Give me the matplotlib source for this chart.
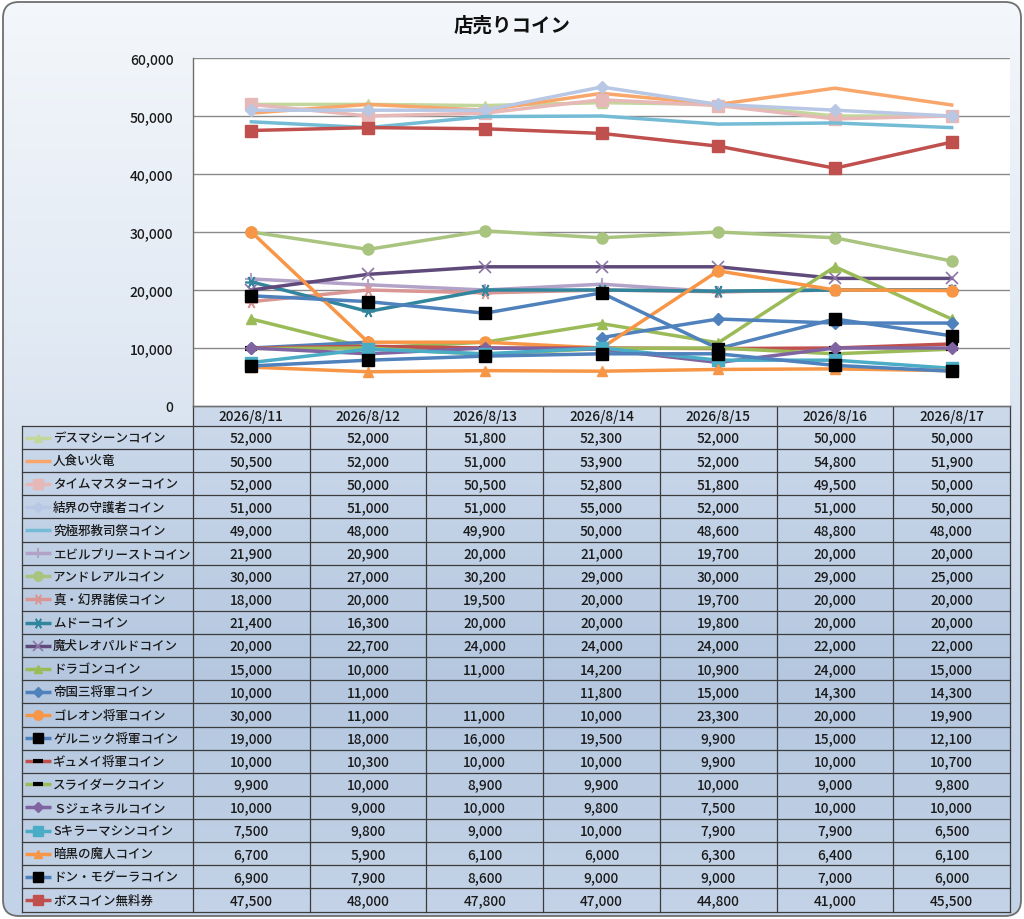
import numpy as np
import matplotlib
matplotlib.use("Agg")
import matplotlib.pyplot as plt
from matplotlib.patches import FancyBboxPatch, Rectangle
from matplotlib.colors import LinearSegmentedColormap

plt.rcParams['font.family'] = ['Noto Sans CJK JP', 'DejaVu Sans']

title = "店売りコイン"
dates = ["2026/8/11", "2026/8/12", "2026/8/13", "2026/8/14",
         "2026/8/15", "2026/8/16", "2026/8/17"]

# values (None = empty cell)
death_machine = [52000, 52000, 51800, 52300, 52000, 50000, 50000]
hitokui_karyu = [50500, 52000, 51000, 53900, 52000, 54800, 51900]
time_master = [52000, 50000, 50500, 52800, 51800, 49500, 50000]
kekkai = [51000, 51000, 51000, 55000, 52000, 51000, 50000]
kyukyoku = [49000, 48000, 49900, 50000, 48600, 48800, 48000]
evil_priest = [21900, 20900, 20000, 21000, 19700, 20000, 20000]
andreal = [30000, 27000, 30200, 29000, 30000, 29000, 25000]
gen_shoko = [18000, 20000, 19500, 20000, 19700, 20000, 20000]
mudo = [21400, 16300, 20000, 20000, 19800, 20000, 20000]
leopard = [20000, 22700, 24000, 24000, 24000, 22000, 22000]
dragon = [15000, 10000, 11000, 14200, 10900, 24000, 15000]
teikoku = [10000, 11000, None, 11800, 15000, 14300, 14300]
goreon = [30000, 11000, 11000, 10000, 23300, 20000, 19900]
gernick = [19000, 18000, 16000, 19500, 9900, 15000, 12100]
gyumei = [10000, 10300, 10000, 10000, 9900, 10000, 10700]
slydark = [9900, 10000, 8900, 9900, 10000, 9000, 9800]
s_general = [10000, 9000, 10000, 9800, 7500, 10000, 10000]
s_killer = [7500, 9800, 9000, 10000, 7900, 7900, 6500]
ankoku = [6700, 5900, 6100, 6000, 6300, 6400, 6100]
don_mogura = [6900, 7900, 8600, 9000, 9000, 7000, 6000]
boss_ticket = [47500, 48000, 47800, 47000, 44800, 41000, 45500]

star = (6, 2, 90)
# name, values, line colour, marker, face, edge, size, edge width
series = [
    ("デスマシーンコイン", death_machine, "#c3d69b", "^", "#c3d69b", "#c3d69b", 7, 1),
    ("人食い火竜", hitokui_karyu, "#f9a66b", None, None, None, 0, 0),
    ("タイムマスターコイン", time_master, "#e6b9b8", "s", "#e6b9b8", "#e6b9b8", 8, 1),
    ("結界の守護者コイン", kekkai, "#b7c7e4", "D", "#b7c7e4", "#b7c7e4", 6, 1),
    ("究極邪教司祭コイン", kyukyoku, "#74bcd6", None, None, None, 0, 0),
    ("エビルプリーストコイン", evil_priest, "#b3a2c7", "+", "#b3a2c7", "#b3a2c7", 9, 1.5),
    ("アンドレアルコイン", andreal, "#a9c47f", "o", "#a9c47f", "#a9c47f", 8, 1),
    ("真・幻界諸侯コイン", gen_shoko, "#d99694", star, "#d99694", "#d99694", 9, 1.2),
    ("ムドーコイン", mudo, "#31859c", star, "#31859c", "#31859c", 9, 1.2),
    ("魔犬レオパルドコイン", leopard, "#604a7b", "x", "#604a7b", "#8a75a6", 8, 1.2),
    ("ドラゴンコイン", dragon, "#9bbb59", "^", "#9bbb59", "#9bbb59", 7, 1),
    ("帝国三将軍コイン", teikoku, "#4f81bd", "D", "#4f81bd", "#4f81bd", 6, 1),
    ("ゴレオン将軍コイン", goreon, "#f79646", "o", "#f79646", "#f79646", 8, 1),
    ("ゲルニック将軍コイン", gernick, "#4f81bd", "s", "black", "black", 8, 1),
    ("ギュメイ将軍コイン", gyumei, "#c0504d", "_", "black", "black", 8, 3),
    ("スライダークコイン", slydark, "#9bbb59", "_", "black", "black", 8, 3),
    ("Ｓジェネラルコイン", s_general, "#8064a2", "D", "#8064a2", "#8064a2", 6, 1),
    ("Sキラーマシンコイン", s_killer, "#4bacc6", "s", "#4bacc6", "#4bacc6", 8, 1),
    ("暗黒の魔人コイン", ankoku, "#f79646", "^", "#f79646", "#f79646", 7, 1),
    ("ドン・モグーラコイン", don_mogura, "#4f81bd", "s", "black", "black", 8, 1),
    ("ボスコイン無料券", boss_ticket, "#c0504d", "s", "#c0504d", "#c0504d", 8, 1),
]

W, H = 1024, 920
fig = plt.figure(figsize=(W / 100, H / 100), dpi=100)
fig.patch.set_facecolor("white")

# full-figure overlay in pixel coordinates
bg = fig.add_axes([0, 0, 1, 1], zorder=0)
bg.set_xlim(0, W)
bg.set_ylim(H, 0)
bg.axis("off")

grad_cmap = LinearSegmentedColormap.from_list(
    "bg", [(0, "#f4f7fb"), (0.35, "#e2eaf4"), (0.75, "#c7d6e9"), (1, "#c2d2e7")])
grad = np.linspace(0, 1, 256).reshape(-1, 1)
im = bg.imshow(grad, cmap=grad_cmap, extent=[0, W, H, 0], aspect="auto", zorder=0)
frame = FancyBboxPatch((3, 3), W - 6, H - 6, boxstyle="round,pad=0,rounding_size=16",
                       facecolor="none", edgecolor="#6e6e6e", lw=1.3, zorder=5)
bg.add_patch(frame)
im.set_clip_path(frame)

bg.text(512, 26, title, ha="center", va="center", fontsize=14, fontweight="bold", color="#111111")

# table geometry (pixels)
x_lab0, x_tab0, x_tab1 = 22, 193, 1010
y_head0, y_row0, row_h = 407, 427, 23.12
col_w = (x_tab1 - x_tab0) / len(dates)
n_rows = len(series)
y_end = y_row0 + n_rows * row_h

cell_cmap = LinearSegmentedColormap.from_list(
    "cell", [(0, "#ccd9eb"), (0.55, "#b4c7df"), (1, "#c4d3e7")])
cell_im = bg.imshow(grad, cmap=cell_cmap, extent=[x_lab0, x_tab1, y_end, y_head0],
                    aspect="auto", zorder=1)
clip = Rectangle((x_lab0, y_row0), x_tab1 - x_lab0, y_end - y_row0, transform=bg.transData)
head = Rectangle((x_tab0, y_head0), x_tab1 - x_tab0, y_end - y_head0, transform=bg.transData)
cell_im.set_clip_path(head)
cell_im2 = bg.imshow(grad, cmap=cell_cmap, extent=[x_lab0, x_tab1, y_end, y_head0],
                     aspect="auto", zorder=1)
cell_im2.set_clip_path(clip)

line_kw = dict(color="#3c3c3c", lw=0.9, zorder=3)
# horizontal lines
bg.plot([x_tab0, x_tab1], [y_head0, y_head0], **line_kw)
for i in range(n_rows + 1):
    y = y_row0 + i * row_h
    bg.plot([x_lab0, x_tab1], [y, y], **line_kw)
# vertical lines
bg.plot([x_lab0, x_lab0], [y_row0, y_end], **line_kw)
for j in range(len(dates) + 1):
    x = x_tab0 + j * col_w
    bg.plot([x, x], [y_head0, y_end], **line_kw)

txt_kw = dict(ha="center", va="center", fontsize=9.8, fontweight="medium",
              color="#1a1a1a", zorder=4)
for j, d in enumerate(dates):
    bg.text(x_tab0 + (j + 0.5) * col_w, (y_head0 + y_row0) / 2, d, **txt_kw)

for i, (name, vals, lc, mk, mfc, mec, ms, mew) in enumerate(series):
    yc = y_row0 + (i + 0.5) * row_h
    bg.plot([25, 51], [yc, yc], color=lc, lw=2.5, solid_capstyle="butt", zorder=4)
    if mk is not None:
        bg.plot([38], [yc], marker=mk, ms=ms * 0.85, mfc=mfc, mec=mec, mew=mew, zorder=5)
    bg.text(53, yc, name, ha="left", va="center", fontsize=9.0, fontweight="medium",
            color="#1a1a1a", zorder=4)
    for j, v in enumerate(vals):
        if v is None:
            continue
        bg.text(x_tab0 + (j + 0.5) * col_w, yc, f"{v:,}", **txt_kw)

# chart area
ax = fig.add_axes([x_tab0 / W, 1 - y_head0 / H, (x_tab1 - x_tab0) / W, (y_head0 - 59) / H],
                  zorder=2)
ax.set_facecolor("white")
ax.set_xlim(-0.5, len(dates) - 0.5)
ax.set_ylim(0, 60000)
ax.set_yticks(range(0, 60001, 10000))
ax.set_yticklabels([f"{t:,}" for t in range(0, 60001, 10000)], fontsize=10,
                   fontweight="medium", color="#1a1a1a")
ax.tick_params(axis="y", length=0, pad=14)
ax.set_xticks([])
ax.grid(axis="y", color="#8a8a8a", lw=1)
ax.set_axisbelow(True)
for side in ["right", "top"]:
    ax.spines[side].set_visible(False)
for side in ["left", "bottom"]:
    ax.spines[side].set_color("#6e6e6e")
    ax.spines[side].set_linewidth(1)

x = np.arange(len(dates))
for name, vals, lc, mk, mfc, mec, ms, mew in series:
    y = np.array([np.nan if v is None else v for v in vals], dtype=float)
    ax.plot(x, y, color=lc, lw=2.5, marker=mk, ms=ms, mfc=mfc, mec=mec, mew=mew,
            clip_on=False)

fig.savefig("out.png", dpi=100)
